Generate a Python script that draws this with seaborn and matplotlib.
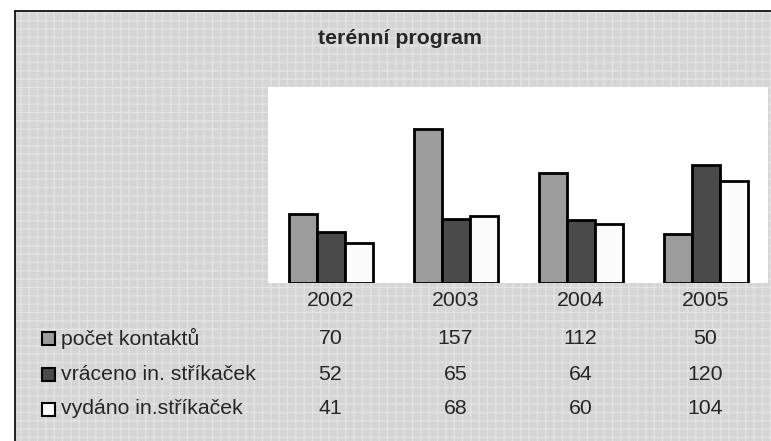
import matplotlib
matplotlib.use("Agg")
import matplotlib.pyplot as plt
from matplotlib.patches import Rectangle
from matplotlib.lines import Line2D
from matplotlib.transforms import blended_transform_factory
import pandas as pd
import seaborn as sns

years = ["2002", "2003", "2004", "2005"]
series = ["počet kontaktů", "vráceno in. stříkaček", "vydáno in.stříkaček"]
kontakty = [70, 157, 112, 50]
vraceno = [52, 65, 64, 120]
vydano = [41, 68, 60, 104]
colors = ["#9c9c9c", "#4a4a4a", "#fbfbfb"]

df = pd.DataFrame({
    "rok": years * 3,
    "serie": [s for s in series for _ in years],
    "hodnota": kontakty + vraceno + vydano,
})

sns.set_style("white")
plt.rcParams["font.family"] = ["Liberation Sans", "DejaVu Sans"]
plt.rcParams["hatch.linewidth"] = 1.0

W, H = 771, 441
fig = plt.figure(figsize=(W / 100, H / 100), dpi=100)
fig.patch.set_facecolor("white")

# textured grey background inside the frame
bg = Rectangle((15 / W, 0), 1 - 15 / W, (H - 11) / H, transform=fig.transFigure,
               facecolor="#d5d5d5", edgecolor="#e3e3e3", hatch="++", lw=0, zorder=-10)
fig.add_artist(bg)
fig.add_artist(Line2D([15 / W, 1], [(H - 11) / H] * 2, transform=fig.transFigure,
                      color="black", lw=1.2))
fig.add_artist(Line2D([15 / W] * 2, [0, (H - 11) / H], transform=fig.transFigure,
                      color="black", lw=1.2))

ax = fig.add_axes([268 / W, (H - 283) / H, 500 / W, 196 / H])
ax.set_facecolor("white")
sns.barplot(data=df, x="rok", y="hodnota", hue="serie", palette=colors,
            width=0.672, edgecolor="black", linewidth=2, saturation=1,
            legend=False, ax=ax)
ax.set_ylim(0, 200)
ax.set_xlim(-0.5, 3.5)
ax.set_xticks([])
ax.set_yticks([])
ax.set_xlabel("")
ax.set_ylabel("")
for s in ax.spines.values():
    s.set_visible(False)

fig.text(400 / W, 1 - 38 / H, "terénní program", ha="center", va="center",
         fontsize=15.3, fontweight="bold")

# data table under the chart
tr = blended_transform_factory(ax.transData, fig.transFigure)
for i, y in enumerate(years):
    ax.text(i, 1 - 300 / H, y, transform=tr, ha="center", va="center", fontsize=15.3)

rows_y = [338, 374, 409]
for vals, name, col, ry in zip([kontakty, vraceno, vydano], series, colors, rows_y):
    yf = 1 - ry / H
    fig.add_artist(Rectangle((42 / W, yf - 6.5 / H), 13 / W, 13 / H,
                             transform=fig.transFigure, facecolor=col,
                             edgecolor="black", lw=1.5))
    fig.text(61 / W, yf, name, ha="left", va="center", fontsize=15.3)
    for i, v in enumerate(vals):
        ax.text(i, yf, str(v), transform=tr, ha="center", va="center", fontsize=15.3)

fig.savefig("out.png", dpi=100)
